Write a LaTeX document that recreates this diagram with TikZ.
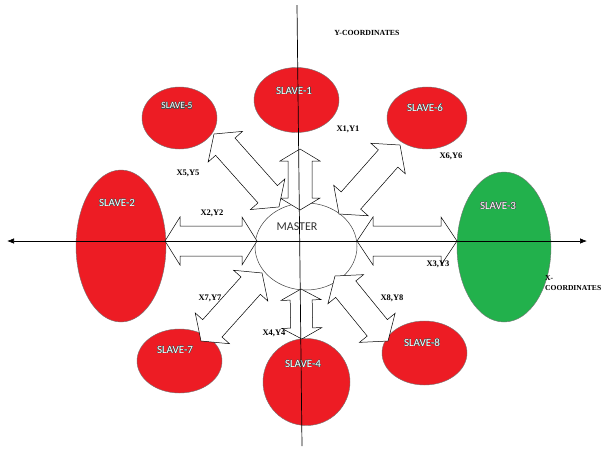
\documentclass[tikz,border=0pt]{standalone}
\usepackage{fontspec}
\setmainfont{Liberation Serif}
\newfontfamily\calfont{Carlito}
\usepackage[copies]{contour}
\contourlength{0.35pt}
\usetikzlibrary{shapes.geometric,arrows.meta}
\definecolor{slavered}{HTML}{ED1C24}
\definecolor{slavegreen}{HTML}{22B14C}
\tikzset{
 slave/.style={ellipse, draw=black!55, line width=0.4pt, fill=slavered, inner sep=0pt},
 masterbox/.style={ellipse, draw=black!75, line width=0.5pt, fill=white, inner sep=0pt},
 pics/fatarrow/.style args={#1/#2/#3/#4}{code={
   \draw[black, fill=white, line width=0.5pt, line join=miter]
     (0,0) -- (#2,#3) -- (#2,#4) -- (#1-#2,#4) -- (#1-#2,#3) -- (#1,0)
     -- (#1-#2,-#3) -- (#1-#2,-#4) -- (#2,-#4) -- (#2,-#3) -- cycle;
 }},
 coordlabel/.style={font=\bfseries\fontsize{8.5}{10}\selectfont, inner sep=0pt},
 slabel/.style={font=\calfont\fontsize{11}{12}\selectfont, inner sep=0pt, text=white},
 axisline/.style={line width=0.7pt, black}
}
\begin{document}
\begin{tikzpicture}[x=1pt,y=-1pt]
\useasboundingbox (0,0) rectangle (605,448);
\clip (0,0) rectangle (605,448);
\fill[white] (0,0) rectangle (605,448);
% slaves
\node[slave, minimum width=85pt, minimum height=65pt] (s1) at (296.5,100) {};
\node[slave, minimum width=75pt, minimum height=62pt] (s5) at (179.5,118) {};
\node[slave, minimum width=80pt, minimum height=62pt] (s6) at (427,118) {};
\node[slave, minimum width=90pt, minimum height=152pt] (s2) at (121,246) {};
\node[slave, fill=slavegreen, minimum width=94pt, minimum height=150pt] (s3) at (504,247) {};
\node[slave, minimum width=85pt, minimum height=64pt] (s7) at (179.5,361) {};
\node[slave, minimum width=87pt, minimum height=87pt] (s4) at (306.5,382) {};
\node[slave, minimum width=85pt, minimum height=64pt] (s8) at (424.5,353) {};
% master
\node[masterbox, minimum width=102pt, minimum height=87pt] (m) at (306,246.5) {};
% fat double arrows (start points)
\coordinate (a1) at (300,210);
\coordinate (a4) at (301,289);
\coordinate (a2) at (165,241);
\coordinate (a3) at (357,241);
\coordinate (a5) at (214,134);
\coordinate (a6) at (339,214);
\coordinate (a7) at (201,341);
\coordinate (a8) at (335,276);
\pic[rotate=90] at (a1) {fatarrow=61/12/20/12};
\pic[rotate=-89] at (a4) {fatarrow=50/11/20/11};
\pic at (a2) {fatarrow=92/15/24/15};
\pic at (a3) {fatarrow=100/16/24/15};
\pic[rotate=-48.3] at (a5) {fatarrow=97.7/17/23/13};
\pic[rotate=48.5] at (a6) {fatarrow=92.1/18/23/13};
\pic[rotate=48.1] at (a7) {fatarrow=91.4/17/23/13};
\pic[rotate=-50.8] at (a8) {fatarrow=83.9/17/23/13};
% slave labels
\node[slabel] (t1) at (294,91) {\contour{black!70}{SLAVE-1}};
\node[slabel, font=\calfont\fontsize{9.5}{11}\selectfont] (t5) at (177,106) {\contour{black!70}{SLAVE-5}};
\node[slabel] (t6) at (425,108) {\contour{black!70}{SLAVE-6}};
\node[slabel] (t3) at (498,206) {\contour{black!70}{SLAVE-3}};
\node[slabel] (t2) at (117,203) {\contour{black!70}{SLAVE-2}};
\node[slabel] (t7) at (175,350) {\contour{black!70}{SLAVE-7}};
\node[slabel] (t4) at (303,364) {\contour{black!70}{SLAVE-4}};
\node[slabel] (t8) at (422,343) {\contour{black!70}{SLAVE-8}};
\node[font=\calfont\fontsize{12}{14}\selectfont, text=black!80, inner sep=0pt] (mt) at (297,227) {MASTER};
% axes
\coordinate (xl) at (7,241);
\coordinate (xr) at (587,241);
\draw[axisline, {Latex[length=7pt,width=5.5pt]}-{Latex[length=7pt,width=5.5pt]}] (xl) -- (xr);
\coordinate (yt) at (297,5);
\coordinate (yb) at (302,446);
\draw[axisline] (yt) -- (yb);
% coordinate labels
\node[coordlabel] (l1) at (348,129) {X1,Y1};
\node[coordlabel] (l5) at (188,173) {X5,Y5};
\node[coordlabel] (l6) at (451,156) {X6,Y6};
\node[coordlabel] (l2) at (212,213) {X2,Y2};
\node[coordlabel] (l3) at (438,264) {X3,Y3};
\node[coordlabel] (l7) at (210,298) {X7,Y7};
\node[coordlabel] (l4) at (274,333) {X4,Y4};
\node[coordlabel] (l8) at (392,298) {X8,Y8};
\node[coordlabel, font=\bfseries\fontsize{7.8}{9}\selectfont] (ly) at (367,33) {Y-COORDINATES};
\node[coordlabel, anchor=west, align=left, font=\bfseries\fontsize{7.6}{10.5}\selectfont] (lx) at (545,283) {X-\\COORDINATES};
\end{tikzpicture}
\end{document}
